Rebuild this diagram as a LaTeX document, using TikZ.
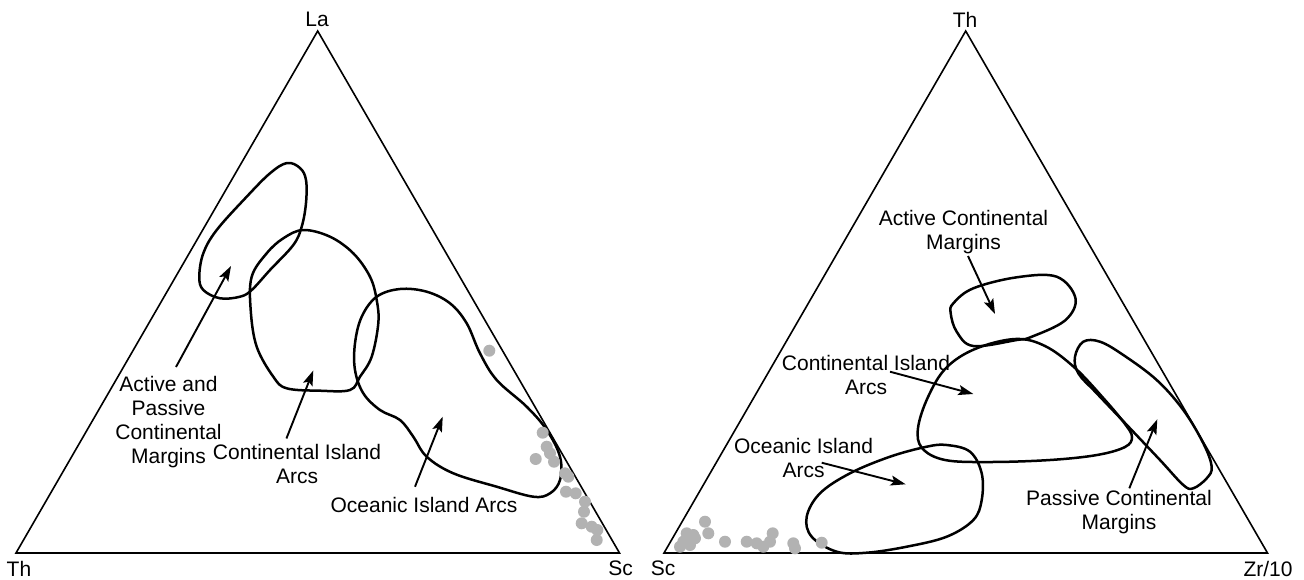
\documentclass[tikz,border=0pt]{standalone}
\usepackage{fontspec}
\setmainfont{Liberation Sans}
\usetikzlibrary{arrows.meta}
\tikzset{
    side/.style={line width=1.6pt, line join=miter},
    field/.style={line width=2.5pt, line join=round},
    lbl/.style={font=\fontsize{21}{24}\selectfont, align=center, inner sep=0pt},
    ptr/.style={line width=1.9pt, -{Stealth[length=15pt,width=10pt,inset=3pt]}},
    grain/.style={fill=black!30},
}

\begin{document}
\begin{tikzpicture}[x=1pt,y=-1pt]
    \useasboundingbox (0,0) rectangle (1304,579);

    % La-Th-Sc
    \coordinate (thL) at (16,553);
    \coordinate (scL) at (619.5,553);
    \coordinate (la) at (317.7,31);
    \draw[side] (thL) -- (scL) -- (la) -- cycle;
    \node[lbl] (laLbl) at (317,19.5) {La};
    \node[lbl] (thLbl) at (19,568.5) {Th};
    \node[lbl] (scLbl) at (620.5,568.5) {Sc};

    \draw[field] plot[smooth cycle, tension=0.6] coordinates {
        (287,163) (300,168) (306,180) (306,203) (301.7,226.7) (293.3,245)
        (270,270) (251.7,290) (240,296.7) (220,298.3) (203.3,290) (199.3,276.7)
        (203.3,253.3) (216.7,230) (246.7,196.7) (270,173.3)};
    \draw[field] plot[smooth cycle, tension=0.6] coordinates {
        (303.3,230) (330,236.7) (353.3,253.3) (370,276.7) (376.7,300) (378.3,323.3)
        (371.7,356.7) (360,376.7) (350,390) (320,390.7) (286.7,388.3) (273.3,376.7)
        (256.7,346.7) (250.7,310) (251.7,276.7) (266.7,253.3) (283.3,238.3)};
    \draw[field] plot[smooth cycle, tension=0.6] coordinates {
        (376.7,296.7) (400,289) (426.7,291.7) (450,303.3) (466.7,323.3) (480,353.3)
        (496.7,380) (526.7,406.7) (546.7,430) (560,456.7) (560,480) (550,493.3)
        (533.3,496.7) (496.7,486.7) (453.3,473.3) (426.7,456.7) (413.3,436.7)
        (400,420) (380,410) (363.3,393.3) (355,370) (355,343.3) (361.7,316.7)};

    \foreach \p in {(489.3,350.7),(542.7,432.7),(546.7,446.7),(535.7,459),(550,453.3),
        (554,461.7),(565,473.3),(568.3,476.7),(566,491.7),(575.7,493.3),(585,501.7),
        (584,511.7),(581.7,523.3),(591.7,526.7),(597.3,530),(596.7,540)}
        \fill[grain] \p circle (6pt);

    \node[lbl, anchor=north] (apcm) at (168.5,376) {Active and\\Passive\\Continental\\Margins};
    \node[lbl, anchor=north] (ciaL) at (297,444) {Continental Island\\Arcs};
    \node[lbl, anchor=north] (oiaL) at (424,497) {Oceanic Island Arcs};
    \coordinate (apcmT) at (176,367);
    \coordinate (apcmH) at (231,266);
    \coordinate (ciaLT) at (286.4,438.5);
    \coordinate (ciaLH) at (313.3,370.5);
    \coordinate (oiaLT) at (415,486.7);
    \coordinate (oiaLH) at (442.7,416.7);
    \draw[ptr] (apcmT) -- (apcmH);
    \draw[ptr] (ciaLT) -- (ciaLH);
    \draw[ptr] (oiaLT) -- (oiaLH);

    % Th-Sc-Zr/10
    \coordinate (scR) at (664,553);
    \coordinate (zr) at (1267.5,553);
    \coordinate (thR) at (965.7,31);
    \draw[side] (scR) -- (zr) -- (thR) -- cycle;
    \node[lbl] (thRLbl) at (965,19.5) {Th};
    \node[lbl] (scRLbl) at (663,568.5) {Sc};
    \node[lbl] (zrLbl) at (1268,568.5) {Zr/10};

    \draw[field] plot[smooth cycle, tension=0.6] coordinates {
        (953.3,303.3) (973.3,288.3) (1016.7,277.3) (1056.7,276.7) (1075.5,298.5)
        (1065,320.5) (1031,337) (1016.7,340) (973.3,346) (956.7,331.7) (950.7,313.3)};
    \draw[field] plot[smooth cycle, tension=0.6] coordinates {
        (1015,339) (1045,346) (1075,368) (1105,400) (1125,424) (1132,437) (1125,447)
        (1097,455) (1050,460) (990,462) (945,460) (922,448) (918,428) (928,397)
        (946,368) (975,349)};
    \draw[field] plot[smooth cycle, tension=0.6] coordinates {
        (1083.3,341.7) (1100,341.7) (1123.3,355) (1156.7,380) (1183.3,410)
        (1203.3,443.3) (1211.7,466.7) (1206.7,478.3) (1193.3,488.3) (1183.3,485)
        (1160,460) (1130,428.3) (1096.7,393.3) (1078.3,373.3) (1075,356.7)};
    \draw[field] plot[smooth cycle, tension=0.6] coordinates {
        (946.7,445) (970,451.7) (981.7,473.3) (981.7,500) (973.3,520) (946.7,536.7)
        (906.7,546.7) (866.7,552.7) (836.7,551.7) (811.7,536.7) (806.7,516.7)
        (820,493.3) (850,473.3) (890,456.7) (926.7,446.7)};

    \foreach \p in {(705,521.7),(686.7,533.3),(693.3,535),(683.3,541.7),(690,545),
        (680,546.7),(708.3,533.3),(695,538.3),(725,541.7),(746.7,541.7),(756.7,543.3),
        (763.3,546.7),(770,541.7),(772.7,533.3),(793.3,543.3),(795,548.3),(821.7,542.7)}
        \fill[grain] \p circle (6pt);

    \node[lbl, anchor=north] (acm) at (963.5,210) {Active Continental\\Margins};
    \node[lbl, anchor=north] (ciaR) at (866,355) {Continental Island\\Arcs};
    \node[lbl, anchor=north] (oiaR) at (803.5,437.7) {Oceanic Island\\Arcs};
    \node[lbl, anchor=north] (pcm) at (1119,490) {Passive Continental\\Margins};
    \coordinate (acmT) at (968,256);
    \coordinate (acmH) at (995,314);
    \coordinate (ciaRT) at (890,371.7);
    \coordinate (ciaRH) at (973.3,394);
    \coordinate (oiaRT) at (821.7,462.7);
    \coordinate (oiaRH) at (905.7,484.3);
    \coordinate (pcmT) at (1129.3,488.3);
    \coordinate (pcmH) at (1157.3,419.3);
    \draw[ptr] (acmT) -- (acmH);
    \draw[ptr] (ciaRT) -- (ciaRH);
    \draw[ptr] (oiaRT) -- (oiaRH);
    \draw[ptr] (pcmT) -- (pcmH);
\end{tikzpicture}
\end{document}
